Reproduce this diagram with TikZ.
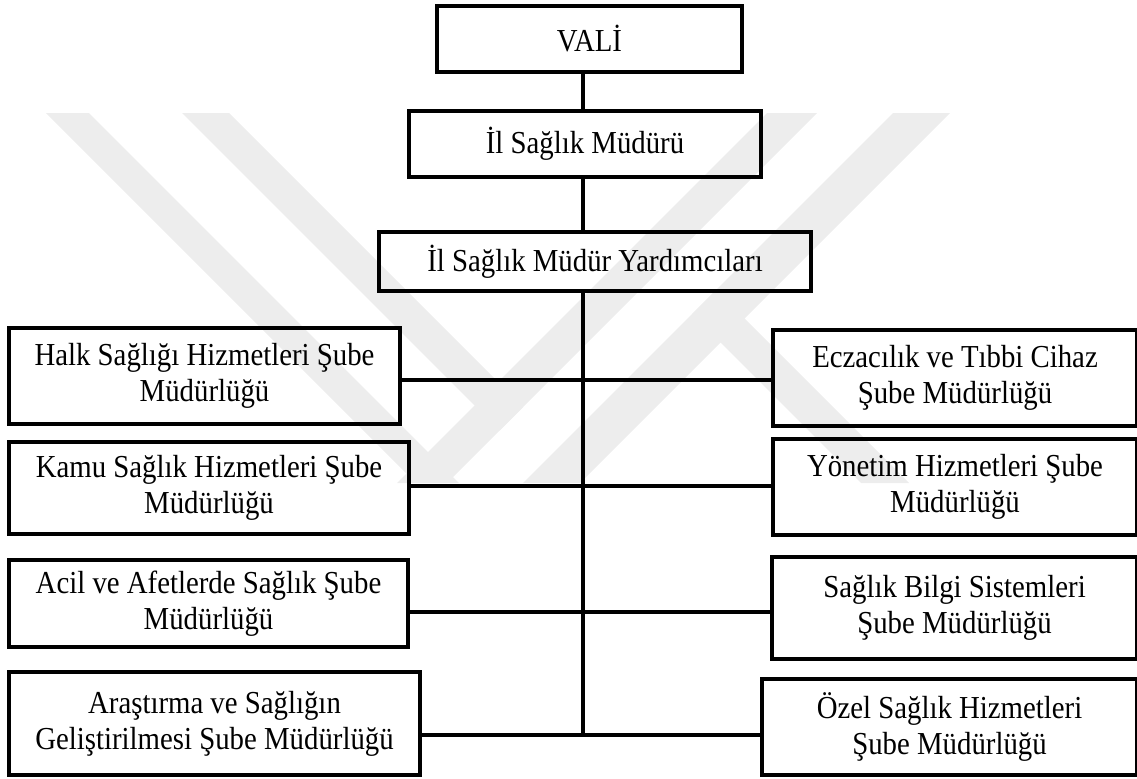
\documentclass[tikz,border=0pt]{standalone}
\usepackage{fontspec}
\setmainfont{Liberation Serif}[FakeStretch=0.9]

% one box of the chart: name, left, top, right, bottom (pixel units), text
\newcommand\orgbox[6]{%
  \node[orgbox, minimum width={(#4-#2)*0.75pt}, minimum height={(#5-#3)*0.75pt}]
    (#1) at ({(#2+#4)/2},{(#3+#5)/2}) {#6};}

\begin{document}
\begin{tikzpicture}[x=0.75pt, y=-0.75pt,
  orgbox/.style={draw=black, line width=2.6pt, inner sep=0pt, outer sep=0pt,
    align=center, font=\fontsize{24}{27}\selectfont},
  link/.style={draw=black, line width=2.5pt},
  wmark/.style={fill=black!7, draw=none}]

\useasboundingbox (0,0) rectangle (1137,778);

% faint background emblem made of diagonal bands
\begin{scope}
  \clip (0,113) rectangle (1137,483);
  \fill[wmark] (46,113) -- (89,113) -- (459,483) -- (416,483) -- cycle;
  \fill[wmark] (767,113) -- (817,113) -- (447,483) -- (397,483) -- cycle;
  \fill[wmark] (182,113) -- (229,113) -- (523,407) -- (499.5,430.5) -- cycle;
  \fill[wmark] (893,113) -- (950,113) -- (580,483) -- (523,483) -- cycle;
  \fill[wmark] (692,314) -- (716,290) -- (909,483) -- (861,483) -- cycle;
\end{scope}

% management chain
\orgbox{vali}{437}{6}{742}{72}{VALİ}
\orgbox{mud}{409}{111}{761}{177}{İl Sağlık Müdürü}
\orgbox{yrd}{379}{232}{811}{291}{İl Sağlık Müdür Yardımcıları}

% branch offices, left column
\orgbox{halk}{9}{328}{400}{424}{Halk Sağlığı Hizmetleri Şube\\Müdürlüğü}
\orgbox{kamu}{9}{442}{409}{534}{Kamu Sağlık Hizmetleri Şube\\Müdürlüğü}
\orgbox{acil}{9}{560}{408}{647}{Acil ve Afetlerde Sağlık Şube\\Müdürlüğü}
\orgbox{arst}{9}{672}{420}{775}{Araştırma ve Sağlığın\\Geliştirilmesi Şube Müdürlüğü}

% branch offices, right column
\orgbox{ecz}{773}{330}{1137}{426}{Eczacılık ve Tıbbi Cihaz\\Şube Müdürlüğü}
\orgbox{yon}{773}{439}{1137}{535}{Yönetim Hizmetleri Şube\\Müdürlüğü}
\orgbox{sbs}{772}{557}{1137}{659}{Sağlık Bilgi Sistemleri\\Şube Müdürlüğü}
\orgbox{ozel}{762}{679}{1137}{775}{Özel Sağlık Hizmetleri\\Şube Müdürlüğü}

% junctions on the trunk
\coordinate (j1) at (583,380);
\coordinate (j2) at (583,486);
\coordinate (j3) at (583,612);
\coordinate (j4) at (583,735);

\draw[link] (vali.south -| j1) -- (mud.north -| j1);
\draw[link] (mud.south -| j1) -- (yrd.north -| j1);
\draw[link] (yrd.south -| j1) -- ([yshift=-1.25pt]j4);
\draw[link] (halk.east |- j1) -- (ecz.west |- j1);
\draw[link] (kamu.east |- j2) -- (yon.west |- j2);
\draw[link] (acil.east |- j3) -- (sbs.west |- j3);
\draw[link] (arst.east |- j4) -- (ozel.west |- j4);
\end{tikzpicture}
\end{document}
